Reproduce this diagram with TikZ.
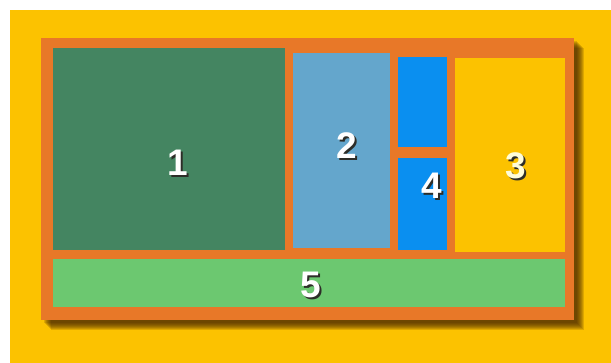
\documentclass[tikz,border=0pt]{standalone}
\usepackage{fontspec}
\setmainfont{Liberation Sans}
\usetikzlibrary{positioning}
\definecolor{bgyellow}{RGB}{252, 194, 0}
\definecolor{frameorange}{RGB}{232, 120, 40}
\definecolor{darkgreen}{RGB}{68, 133, 97}
\definecolor{steelblue}{RGB}{100, 166, 204}
\definecolor{brightblue}{RGB}{10, 143, 240}
\definecolor{lightgreen}{RGB}{108, 200, 112}
\definecolor{shadowbrown}{RGB}{70, 38, 0}
\definecolor{numshade}{RGB}{45, 45, 40}
% digit with a dark copy just behind it
\newcommand{\shadednum}[1]{%
    \makebox[0pt][l]{\hspace{2pt}\raisebox{-2pt}{\textcolor{numshade}{#1}}}#1}

\begin{document}
\begin{tikzpicture}[
        x=1pt, y=-1pt,
        tile/.style={
            draw=none, inner sep=0pt, outer sep=0pt,
            anchor=north west
        },
        num/.style={
            font=\fontsize{37}{37}\selectfont\bfseries,
            text=white, inner sep=0pt
        }
    ]

    \useasboundingbox[fill=white] (0, 0) rectangle (611, 363);
    \fill[bgyellow] (10, 10) rectangle (611, 363);

    % soft shadow of the frame
    \foreach \s in {1,...,8}
        \fill[shadowbrown, opacity=0.17]
            (43+\s, 40+\s) rectangle (576+\s, 322+\s);

    \node[tile, fill=frameorange, minimum width=533pt,
          minimum height=282pt] (frame) at (41, 38) {};

    \node[tile, fill=darkgreen, minimum width=232pt,
          minimum height=202pt] (t1) at (53, 48) {};
    \node[tile, fill=steelblue, minimum width=97pt,
          minimum height=195pt] (t2) at (293, 53) {};
    \node[tile, fill=brightblue, minimum width=49pt,
          minimum height=90pt] (t4a) at (398, 57) {};
    \node[tile, fill=brightblue, minimum width=49pt,
          minimum height=92pt] (t4) at (398, 158) {};
    \node[tile, fill=bgyellow, minimum width=110pt,
          minimum height=194pt] (t3) at (455, 58) {};
    \node[tile, fill=lightgreen, minimum width=512pt,
          minimum height=48pt] (t5) at (53, 259) {};

    % numbers
    \node[num] (n1) at (178, 164) {\shadednum{1}};
    \node[num] (n2) at (347, 147) {\shadednum{2}};
    \node[num, text=white!85!yellow] (n3) at (516, 167) {\shadednum{3}};
    \node[num] (n4) at (432, 187) {\shadednum{4}};
    \node[num] (n5) at (311, 286) {\shadednum{5}};

\end{tikzpicture}
\end{document}
